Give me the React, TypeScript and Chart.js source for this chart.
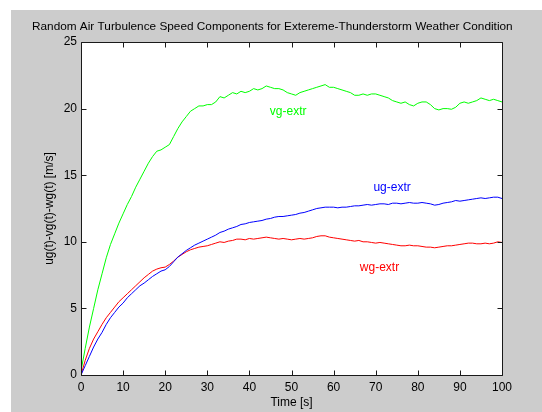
import React, { useEffect, useRef } from "react";
import { Chart, registerables } from "chart.js";

Chart.register(...registerables);

const TITLE = "Random Air Turbulence Speed Components for Extereme-Thunderstorm Weather Condition";
const X_LABEL = "Time [s]";
const Y_LABEL = "ug(t)-vg(t)-wg(t) [m/s]";

const TIME: number[] = Array.from({ length: 101 }, (_, i) => i);

const VG: number[] = [
  0.3, 2.0, 3.6, 5.0, 6.4, 7.6, 8.8, 9.8, 10.6, 11.4,
  12.1, 12.8, 13.4, 14.1, 14.7, 15.3, 15.9, 16.4, 16.8, 16.9,
  17.1, 17.3, 17.9, 18.5, 19.0, 19.4, 19.8, 20.0, 20.2, 20.2,
  20.3, 20.3, 20.5, 20.9, 20.8, 21.0, 21.2, 21.1, 21.3, 21.2,
  21.3, 21.5, 21.4, 21.5, 21.7, 21.6, 21.5, 21.5, 21.4, 21.2,
  21.1, 21.0, 21.2, 21.3, 21.4, 21.5, 21.6, 21.7, 21.8, 21.6,
  21.6, 21.5, 21.4, 21.3, 21.2, 21.0, 21.0, 21.1, 21.0, 21.1,
  21.1, 21.0, 20.9, 20.8, 20.6, 20.5, 20.4, 20.5, 20.3, 20.2,
  20.4, 20.5, 20.5, 20.3, 20.0, 19.9, 20.0, 20.0, 19.95, 20.1,
  20.4, 20.5, 20.4, 20.5, 20.6, 20.8, 20.7, 20.6, 20.7, 20.6,
  20.5,
];

const UG: number[] = [
  0.0, 0.7, 1.4, 2.1, 2.7, 3.2, 3.8, 4.3, 4.7, 5.1,
  5.4, 5.8, 6.1, 6.4, 6.7, 6.9, 7.15, 7.4, 7.6, 7.8,
  7.9, 8.15, 8.5, 8.85, 9.1, 9.35, 9.55, 9.75, 9.9, 10.05,
  10.2, 10.35, 10.5, 10.7, 10.8, 10.95, 11.05, 11.15, 11.3, 11.35,
  11.45, 11.5, 11.55, 11.6, 11.7, 11.75, 11.85, 11.9, 11.9, 11.95,
  12.0, 12.05, 12.15, 12.2, 12.3, 12.4, 12.5, 12.55, 12.6, 12.6,
  12.6, 12.55, 12.6, 12.6, 12.65, 12.7, 12.7, 12.75, 12.8, 12.75,
  12.8, 12.85, 12.85, 12.8, 12.9, 12.9, 12.85, 12.9, 12.95, 12.9,
  12.9, 12.95, 12.9, 12.85, 12.75, 12.8, 12.9, 12.95, 13.0, 13.1,
  13.05, 13.1, 13.15, 13.2, 13.25, 13.3, 13.25, 13.3, 13.35, 13.35,
  13.25,
];

const WG: number[] = [
  0.0, 1.1, 2.0, 2.7, 3.25, 3.8, 4.3, 4.7, 5.1, 5.5,
  5.8, 6.1, 6.4, 6.7, 7.0, 7.3, 7.55, 7.8, 7.95, 8.05,
  8.1, 8.3, 8.55, 8.85, 9.05, 9.25, 9.4, 9.5, 9.6, 9.65,
  9.7, 9.8, 9.9, 10.0, 9.95, 10.05, 10.1, 10.2, 10.2, 10.15,
  10.25, 10.2, 10.25, 10.3, 10.35, 10.3, 10.25, 10.2, 10.25, 10.2,
  10.15, 10.2, 10.25, 10.2, 10.25, 10.3, 10.4, 10.45, 10.45, 10.35,
  10.3, 10.25, 10.2, 10.15, 10.1, 10.05, 10.1, 10.0, 10.0, 9.95,
  9.9, 9.95, 9.9, 9.85, 9.8, 9.75, 9.7, 9.7, 9.75, 9.7,
  9.7, 9.65, 9.6, 9.6, 9.55, 9.6, 9.65, 9.7, 9.7, 9.75,
  9.8, 9.85, 9.9, 9.9, 9.85, 9.85, 9.9, 9.85, 9.9, 10.0,
  9.95,
];

const X_TICKS: number[] = [0, 10, 20, 30, 40, 50, 60, 70, 80, 90, 100];
const Y_TICKS: number[] = [0, 5, 10, 15, 20, 25];

// in-plot series labels: [text, t, value, colour]
const SERIES_LABELS: [string, number, number, string][] = [
  ["vg-extr", 49.2, 19.76, "#00ff00"],
  ["ug-extr", 73.9, 14.07, "#0000ff"],
  ["wg-extr", 70.9, 8.08, "#ff0000"],
];

const FONT = "'Liberation Sans', Arial, Helvetica, sans-serif";

const W = 542;
const H = 412;

const matlabPlugin = {
  id: "matlabLook",
  beforeDraw(chart: any) {
    const ctx = chart.ctx;
    const a = chart.chartArea;
    ctx.save();
    ctx.fillStyle = "#ffffff";
    ctx.fillRect(0, 0, W, H);
    ctx.fillStyle = "#cccccc";
    ctx.fillRect(11, 10, W - 11, H - 10);
    ctx.fillStyle = "#ffffff";
    ctx.fillRect(a.left, a.top, a.right - a.left, a.bottom - a.top);
    ctx.restore();
  },
  afterDraw(chart: any) {
    const ctx = chart.ctx;
    const a = chart.chartArea;
    const xs = chart.scales.x;
    const ys = chart.scales.y;
    ctx.save();
    const L = Math.round(a.left) + 0.5;
    const R = Math.round(a.right) + 0.5;
    const T = Math.round(a.top) + 0.5;
    const B = Math.round(a.bottom) + 0.5;
    ctx.strokeStyle = "#1a1a1a";
    ctx.lineWidth = 1;
    ctx.beginPath();
    ctx.rect(L, T, R - L, B - T);
    ctx.stroke();
    ctx.beginPath();
    const tl = 5;
    X_TICKS.forEach((v) => {
      const px = Math.round(xs.getPixelForValue(v)) + 0.5;
      ctx.moveTo(px, B);
      ctx.lineTo(px, B - tl);
      ctx.moveTo(px, T);
      ctx.lineTo(px, T + tl);
    });
    Y_TICKS.forEach((v) => {
      const py = Math.round(ys.getPixelForValue(v)) + 0.5;
      ctx.moveTo(L, py);
      ctx.lineTo(L + tl, py);
      ctx.moveTo(R, py);
      ctx.lineTo(R - tl, py);
    });
    ctx.stroke();

    ctx.fillStyle = "#000000";
    ctx.textBaseline = "middle";
    ctx.textAlign = "left";
    ctx.font = `11.8px ${FONT}`;
    ctx.fillText(TITLE, 32, 27);
    ctx.font = `12px ${FONT}`;
    ctx.textAlign = "center";
    ctx.fillText(X_LABEL, (a.left + a.right) / 2, 403);
    ctx.save();
    ctx.translate(50, (a.top + a.bottom) / 2);
    ctx.rotate(-Math.PI / 2);
    ctx.fillText(Y_LABEL, 0, 0);
    ctx.restore();

    SERIES_LABELS.forEach(([txt, t, v, c]) => {
      ctx.fillStyle = c;
      ctx.fillText(txt, xs.getPixelForValue(t), ys.getPixelForValue(v));
    });
    ctx.restore();
  },
};

export default function App() {
  const ref = useRef<HTMLCanvasElement | null>(null);
  useEffect(() => {
    if (!ref.current) return;
    const mk = (vals: number[]) => vals.map((v, i) => ({ x: TIME[i], y: v }));
    const chart = new Chart(ref.current, {
      type: "line",
      data: {
        datasets: [
          { label: "vg-extr", data: mk(VG), borderColor: "#00ff00", borderWidth: 1, pointRadius: 0, tension: 0 },
          { label: "ug-extr", data: mk(UG), borderColor: "#0000ff", borderWidth: 1, pointRadius: 0, tension: 0 },
          { label: "wg-extr", data: mk(WG), borderColor: "#ff0000", borderWidth: 1, pointRadius: 0, tension: 0 },
        ],
      },
      options: {
        animation: false,
        responsive: false,
        devicePixelRatio: 1,
        layout: { padding: { left: 0, top: 42, right: 40, bottom: 0 } },
        plugins: { legend: { display: false }, title: { display: false }, tooltip: { enabled: false } },
        scales: {
          x: {
            type: "linear",
            min: 0,
            max: 100,
            afterFit: (s: any) => { s.height = 37; },
            afterBuildTicks: (s: any) => { s.ticks = X_TICKS.map((v) => ({ value: v })); },
            grid: { display: false, drawTicks: false },
            border: { display: false },
            ticks: { color: "#000", padding: 5, font: { family: FONT, size: 12 }, maxRotation: 0, autoSkip: false },
          },
          y: {
            type: "linear",
            min: 0,
            max: 25,
            afterFit: (s: any) => { s.width = 81; },
            afterBuildTicks: (s: any) => { s.ticks = Y_TICKS.map((v) => ({ value: v })); },
            grid: { display: false, drawTicks: false },
            border: { display: false },
            ticks: { color: "#000", padding: 4, font: { family: FONT, size: 12 } },
          },
        },
      },
      plugins: [matlabPlugin],
    });
    return () => chart.destroy();
  }, []);
  return (
    <div style={{ position: "absolute", left: 0, top: 0, width: W, height: H }}>
      <canvas ref={ref} width={W} height={H} style={{ display: "block", width: W, height: H }} />
    </div>
  );
}
